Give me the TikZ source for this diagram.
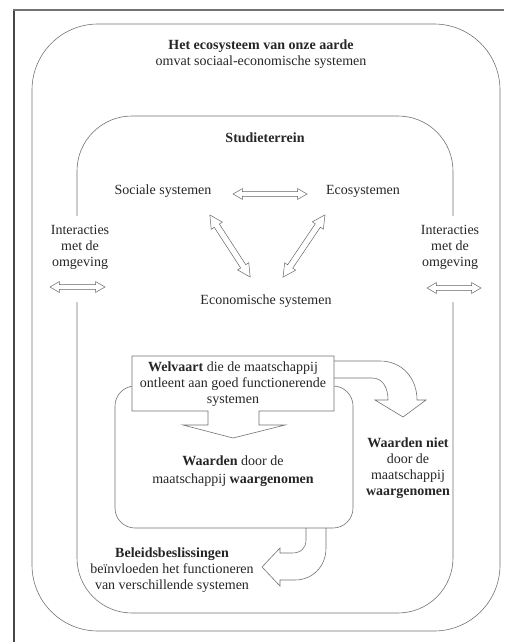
\documentclass[tikz,border=0pt]{standalone}
\usepackage{fontspec}
\setmainfont{Liberation Serif}
\usetikzlibrary{shapes.arrows}

\begin{document}
\begin{tikzpicture}[x=1pt,y=-1pt,
  ln/.style={draw=black!55, line width=0.6pt},
  txt/.style={inner sep=0pt, align=center, font=\fontsize{14}{16}\selectfont, text=black!85},
  dbl/.style={double arrow, draw=black!60, line width=0.5pt, inner sep=2.2pt,
    minimum height=#1, double arrow head extend=3pt, double arrow tip angle=60},
  dbw/.style={dbl=#1, inner sep=2.8pt, double arrow head extend=3.6pt, double arrow tip angle=55},
]
\useasboundingbox[fill=white] (0,0) rectangle (504,642);

% page frame
\draw[black!72, line width=2.6pt] (14,642) -- (14,9.5);
\draw[black!55, line width=1.8pt] (13,10) -- (504,10);

% earth ecosystem
\draw[ln, rounded corners=66pt] (32,24) rectangle (500,631);
\node[txt] (earth) at (261,54) {\textbf{Het ecosysteem van onze aarde}\\omvat sociaal-economische systemen};

% study area, open where it meets the surroundings
\draw[ln, rounded corners=55pt] (77,216) -- (77,116) -- (453,116) -- (453,216);
\draw[ln, rounded corners=55pt] (77,302) -- (77,613) -- (453,613) -- (453,302);
\node[txt] (study) at (265,138) {\textbf{Studieterrein}};

% the three systems
\node[txt] (soc) at (163,191) {Sociale systemen};
\node[txt] (eco) at (363,191) {Ecosystemen};
\node[txt] (econ) at (266,301) {Economische systemen};
\node[dbl=74pt] (socEco) at (270,194) {};
\node[dbw=74pt, rotate=-57] (socEcon) at (230,246) {};
\node[dbw=75pt, rotate=56] (ecoEcon) at (304,246) {};

% interactions with the surroundings
\node[txt] (intL) at (80,247) {Interacties\\met de\\omgeving};
\node[txt] (intR) at (450,247) {Interacties\\met de\\omgeving};
\node[dbl=55pt] (arrL) at (77.5,287) {};
\node[dbl=54pt] (arrR) at (454,288) {};

% values perceived by society
\draw[ln, rounded corners=20pt] (115,386) rectangle (353,528);
\node[txt] (perc) at (233,471) {\textbf{Waarden} door de\\[2pt]maatschappij \textbf{waargenomen}};

% welfare box with its arrow down
\draw[ln, fill=white] (132,356) -- (334,356) -- (334,411) -- (259,411) -- (259,425)
  -- (285,425) -- (233,438) -- (183,425) -- (208,425) -- (208,411) -- (132,411) -- cycle;
\node[txt] (welf) at (233,384) {\textbf{Welvaart} die de maatschappij\\ontleent aan goed functionerende\\systemen};

% bent arrow to values not perceived
\draw[ln] (334,361) -- (380,361) .. controls (402,361) and (417,378) .. (417,400)
  -- (426,400) -- (403,417) -- (375,400) -- (388,400)
  .. controls (388,388) and (383,378) .. (372,378) -- (334,378);
\node[txt] (notperc) at (408,468) {\textbf{Waarden niet}\\door de\\maatschappij\\\textbf{waargenomen}};

% bent arrow to policy decisions
\draw[ln] (326,528) -- (326,548) .. controls (326,567) and (312,580) .. (295,580)
  -- (280,580) -- (280,586) -- (262,567) -- (280,548) -- (280,553) -- (292,553)
  .. controls (301,553) and (306,548) .. (306,540) -- (306,528);
\node[txt] (policy) at (172,570) {\textbf{Beleidsbeslissingen}\\beïnvloeden het functioneren\\van verschillende systemen};
\end{tikzpicture}
\end{document}
